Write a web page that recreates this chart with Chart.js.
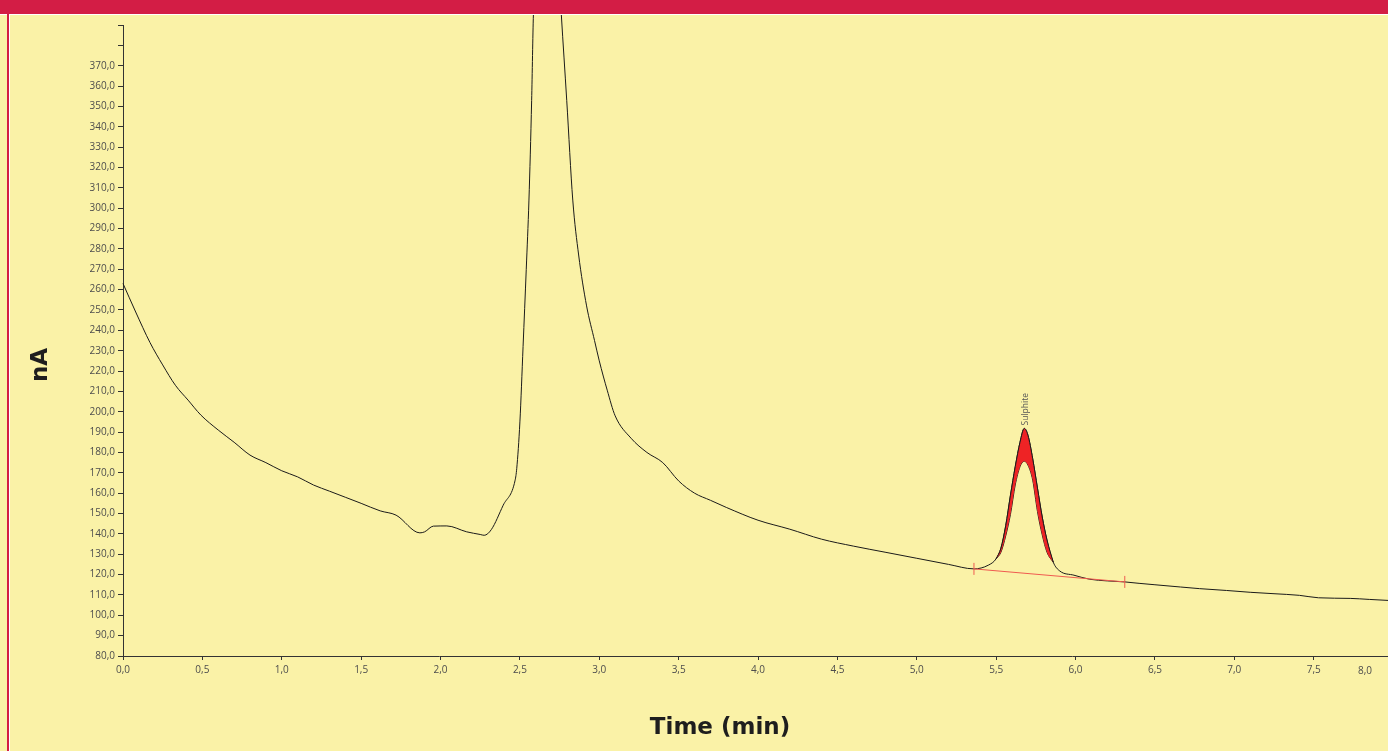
<!DOCTYPE html>
<html><head><meta charset="utf-8">
<script src="https://cdn.jsdelivr.net/npm/chart.js@4.4.0/dist/chart.umd.min.js"></script>
<style>
html,body{margin:0;padding:0;background:#FAF2A7;overflow:hidden;}
#wrap{position:relative;width:1388px;height:751px;background:#FAF2A7;}
canvas{position:absolute;left:0;top:0;}
.bar{position:absolute;}
</style></head><body>
<div id="wrap">
<canvas id="c" width="1388" height="751"></canvas>
<div class="bar" style="left:0;top:0;width:1388px;height:14px;background:#D31D45"></div>
<div class="bar" style="left:0;top:14px;width:1388px;height:1px;background:#ffffff"></div>
<div class="bar" style="left:7px;top:0;width:2px;height:751px;background:#D31D45"></div>
<div class="bar" style="left:9px;top:14px;width:1px;height:737px;background:#ffffff"></div>
</div>
<script>
// ---- data (time in min, signal in nA) ----
const traceTime = [0.00,0.08,0.17,0.25,0.33,0.41,0.49,0.60,0.70,0.80,0.90,1.00,1.10,1.20,1.30,1.40,1.50,1.62,1.72,1.87,1.90,1.955,2.04,2.165,2.25,2.275,2.32,2.395,2.47,2.48,2.50,2.52,2.54,2.557,2.574,2.585,2.67,2.761,2.795,2.833,2.87,2.92,2.97,3.00,3.05,3.10,3.20,3.30,3.40,3.50,3.60,3.70,3.80,4.00,4.20,4.40,4.60,4.80,5.00,5.20,5.36,5.45,5.50,5.53,5.56,5.59,5.62,5.65,5.677,5.70,5.73,5.76,5.79,5.82,5.86,5.90,5.99,6.09,6.20,6.31,6.40,6.50,6.66,6.78,6.95,7.10,7.25,7.41,7.53,7.73,7.85,7.97];
const traceNA = [263,249,234,223,213,205.7,198.4,191,185,178.7,175,171,168,164,161,158,155,151.3,149.2,140.5,141,143.8,143.9,141,139.7,139.3,142.1,154.1,166.4,172,195,232,270,304,353,395,520,395,353,304,277,252,235,225,210.6,198,187,180,175,166,160,156.5,153,146.7,142.3,137.4,134,131,128,125,122.8,124.6,127.8,133,144,159,173,185,191.8,188.5,176.9,162.5,148.3,137,126,121.8,119.7,117.7,116.9,116.4,115.7,115.0,113.9,113.1,112.2,111.3,110.6,109.8,108.6,108.3,107.8,107.3];

const peakTime  = [5.50,5.53,5.56,5.59,5.62,5.65,5.677,5.70,5.73,5.76,5.79,5.82,5.86];
const peakOuter = [127.8,133,144,159,173,185,191.8,188.5,176.9,162.5,148.3,137,126];
const peakInner = [127.8,131,139,149.6,164,173,175.7,173.8,166.4,151,139.5,131,126];

const baseTime = [5.36, 6.31];
const baseNA   = [122.8, 116.4];

const peakName = 'Sulphite';
const peakApexTime = 5.677;
const peakApexNA = 191.8;

const xTitle = 'Time (min)';
const yTitle = 'nA';
const xMin = 0, xMax = 7.968, xStep = 0.5;
const yMin = 80, yMax = 390, yStep = 10, yLabelMax = 370;
const xLastLabel = '8,0';

// ---- chart ----
const fmt = v => v.toFixed(1).replace('.', ',');
const pts = (xs, ys) => xs.map((t, i) => ({x: t, y: ys[i]}));

const textPlugin = {
  id: 'texts',
  afterDraw(chart) {
    const c = chart.ctx, xs = chart.scales.x, ys = chart.scales.y;
    c.save();
    // last x label
    c.font = '10px "Open Sans"';
    c.fillStyle = '#4d4d4d';
    c.textAlign = 'center';
    c.textBaseline = 'middle';
    c.fillText(xLastLabel, xs.right - 23, 671);
    // peak name
    const px = xs.getPixelForValue(peakApexTime), py = ys.getPixelForValue(peakApexNA);
    c.save();
    c.translate(px + 1, py - 3);
    c.rotate(-Math.PI / 2);
    c.font = '8.5px "Open Sans"';
    c.fillStyle = '#555';
    c.textAlign = 'left';
    c.textBaseline = 'middle';
    c.fillText(peakName, 0, 0);
    c.restore();
    // axis titles
    c.fillStyle = '#1e1e1e';
    c.font = 'bold 23px "DejaVu Sans"';
    c.textAlign = 'center';
    c.textBaseline = 'middle';
    c.fillText(xTitle, 720, 728);
    c.save();
    c.translate(41, 365);
    c.rotate(-Math.PI / 2);
    c.fillText(yTitle, 0, 0);
    c.restore();
    c.restore();
  }
};

new Chart(document.getElementById('c'), {
  type: 'line',
  data: {
    datasets: [
      { label: 'Sulphite outer', data: pts(peakTime, peakOuter), borderColor: '#1a1a1a', borderWidth: 1,
        backgroundColor: '#EE2325', fill: '+1', pointRadius: 0, cubicInterpolationMode: 'monotone' },
      { label: 'Sulphite inner', data: pts(peakTime, peakInner), borderColor: '#1a1a1a', borderWidth: 1,
        fill: false, pointRadius: 0, cubicInterpolationMode: 'monotone' },
      { label: 'Baseline', data: pts(baseTime, baseNA), borderColor: '#EF5A50', borderWidth: 1, fill: false,
        pointStyle: 'line', rotation: 90, pointRadius: 6, pointBorderColor: '#EF5A50', pointBorderWidth: 1 },
      { label: 'Signal', data: pts(traceTime, traceNA), borderColor: '#1a1a1a', borderWidth: 1, fill: false,
        pointRadius: 0, cubicInterpolationMode: 'monotone', clip: {left: 2, top: 30, right: 2, bottom: 2} }
    ]
  },
  options: {
    responsive: false,
    animation: false,
    devicePixelRatio: 1,
    layout: { autoPadding: false, padding: { top: 25, left: 0, right: 0, bottom: 0 } },
    plugins: { legend: { display: false }, tooltip: { enabled: false } },
    scales: {
      x: {
        type: 'linear', min: xMin, max: xMax,
        afterFit(s) { s.height = 95; },
        ticks: { stepSize: xStep, includeBounds: false, autoSkip: false, maxRotation: 0,
          callback: v => fmt(v), font: { family: 'Open Sans', size: 10 }, color: '#4d4d4d', padding: 4 },
        grid: { drawOnChartArea: false, tickLength: 4, color: '#333' },
        border: { color: '#333', width: 1 }
      },
      y: {
        type: 'linear', min: yMin, max: yMax,
        afterFit(s) { s.width = 123; },
        ticks: { stepSize: yStep, autoSkip: false, includeBounds: false,
          callback: v => (v > yLabelMax ? '' : fmt(v)), font: { family: 'Open Sans', size: 10 }, color: '#4d4d4d', padding: 3 },
        grid: { drawOnChartArea: false, tickLength: 5, color: '#333' },
        border: { color: '#333', width: 1 }
      }
    }
  },
  plugins: [textPlugin]
});
</script>
</body></html>
